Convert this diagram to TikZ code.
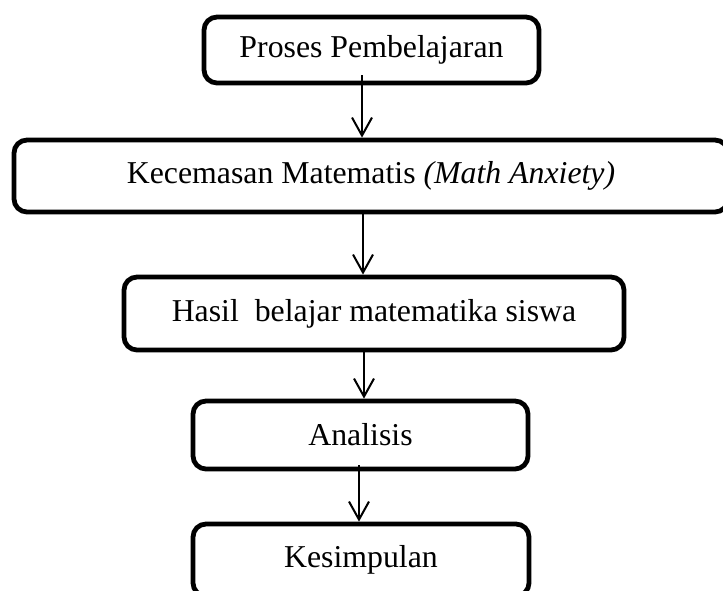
\documentclass[tikz,border=0pt]{standalone}
\usepackage{fontspec}
\setmainfont{Liberation Serif}
\usetikzlibrary{arrows.meta}

\begin{document}
\begin{tikzpicture}[x=0.5pt,y=-0.5pt,
    >={Straight Barb[length=9pt,width=10pt]},
    font=\fontsize{15.9}{19}\selectfont,
    stepbox/.style={draw,line width=2.4pt,rounded corners=6.5pt,inner sep=0pt,align=center},
    flow/.style={->,line width=1pt}]
    % page frame, in pixels of the reference
    \useasboundingbox (0,0) rectangle (723,590);

    % steps of the research
    \node[stepbox,minimum width=167.5pt,minimum height=33pt] (proses) at (371.5,50) {Proses Pembelajaran};
    \node[stepbox,minimum width=357pt,minimum height=36pt] (kecemasan) at (371,176)
        {Kecemasan Matematis \textit{(Math Anxiety)}};
    \node[stepbox,minimum width=250pt,minimum height=36.5pt] (hasil) at (374,313.5)
        {Hasil\ \ belajar matematika siswa};
    \node[stepbox,minimum width=167.5pt,minimum height=34pt] (analisis) at (360.5,435) {Analisis};
    \node[stepbox,minimum width=168pt,minimum height=36pt] (simpulan) at (361,560) {Kesimpulan};

    % arrows between the steps
    \draw[flow] ([shift={(-9.5,-10)}]proses.south) -- ([xshift=-4.5pt]kecemasan.north);
    \draw[flow] ([xshift=-4pt]kecemasan.south) -- ([xshift=-5.5pt]hasil.north);
    \draw[flow] ([xshift=-5pt]hasil.south) -- ([xshift=1.75pt]analisis.north);
    \draw[flow] ([shift={(-1.5,-6)}]analisis.south) -- ([xshift=-1pt]simpulan.north);
\end{tikzpicture}
\end{document}
